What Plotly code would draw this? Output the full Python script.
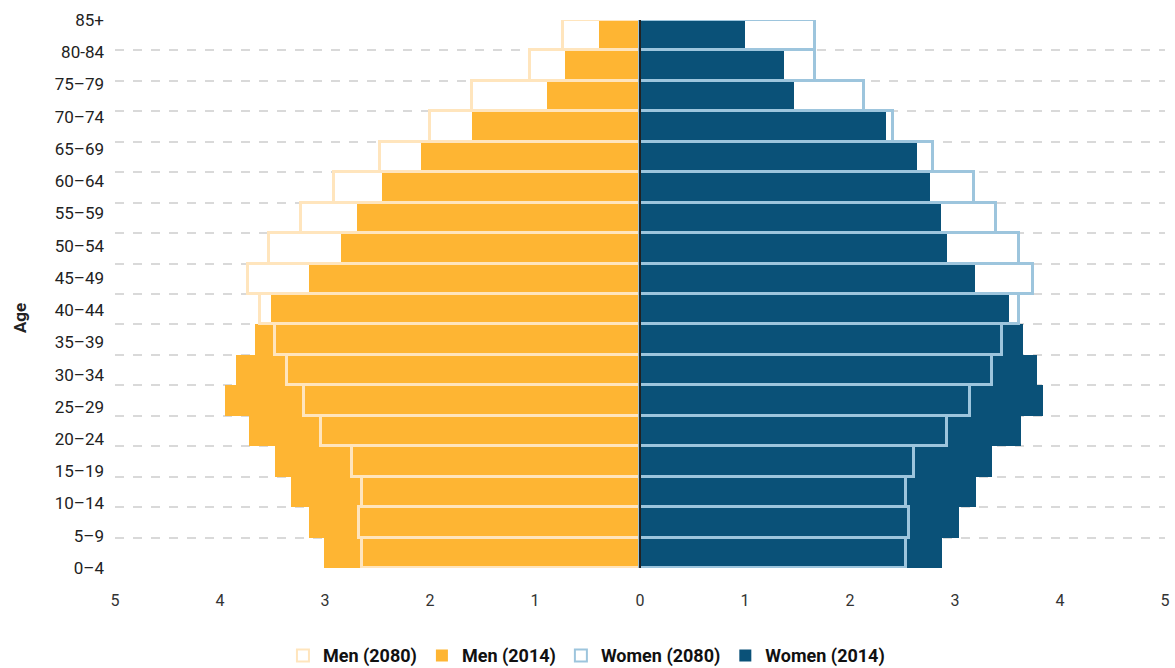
import plotly.graph_objects as go

ages = ["0–4", "5–9", "10–14", "15–19", "20–24", "25–29", "30–34", "35–39", "40–44",
        "45–49", "50–54", "55–59", "60–64", "65–69", "70–74", "75–79", "80-84", "85+"]

men_2080 = [2.65, 2.68, 2.65, 2.74, 3.04, 3.20, 3.36, 3.48, 3.62,
            3.73, 3.53, 3.23, 2.91, 2.48, 2.00, 1.60, 1.05, 0.73]
men_2014 = [3.01, 3.15, 3.32, 3.48, 3.72, 3.95, 3.85, 3.67, 3.51,
            3.15, 2.85, 2.70, 2.46, 2.09, 1.60, 0.89, 0.71, 0.39]
women_2080 = [2.53, 2.56, 2.53, 2.61, 2.92, 3.14, 3.35, 3.45, 3.61,
              3.74, 3.61, 3.39, 3.18, 2.79, 2.41, 2.13, 1.67, 1.67]
women_2014 = [2.88, 3.04, 3.20, 3.35, 3.63, 3.84, 3.78, 3.65, 3.51,
              3.19, 2.92, 2.87, 2.76, 2.64, 2.34, 1.47, 1.37, 1.00]

x_ticks = [-5, -4, -3, -2, -1, 0, 1, 2, 3, 4, 5]
x_ticktext = [str(abs(v)) for v in x_ticks]

ORANGE = "#FEB533"
CREAM = "#FFE5BD"
DARKBLUE = "#0A5178"
LIGHTBLUE = "#9DC5DD"
FONT = "Roboto, Liberation Sans, Arial"

n = len(ages)
ypos = list(range(n))
boundaries = [i - 0.5 for i in range(n + 1)]
label_pos = [-0.5 + k * n / (n - 1) for k in range(n)]

fig = go.Figure()
fig.add_trace(go.Bar(y=ypos, x=[-v for v in men_2014], orientation="h", name="<b>Men (2014)</b>",
                     marker=dict(color=ORANGE, line=dict(width=0)), legendrank=2))
fig.add_trace(go.Bar(y=ypos, x=women_2014, orientation="h", name="<b>Women (2014)</b>",
                     marker=dict(color=DARKBLUE, line=dict(width=0)), legendrank=4))
fig.add_trace(go.Bar(y=ypos, x=[-v for v in men_2080], orientation="h", name="<b>Men (2080)</b>",
                     marker=dict(color="rgba(255,255,255,0)", line=dict(color=CREAM, width=3)),
                     legendrank=1))
fig.add_trace(go.Bar(y=ypos, x=women_2080, orientation="h", name="<b>Women (2080)</b>",
                     marker=dict(color="rgba(255,255,255,0)", line=dict(color=LIGHTBLUE, width=3)),
                     legendrank=3))
# invisible helper trace carrying the label axis
fig.add_trace(go.Scatter(x=[0], y=[0], yaxis="y2", mode="markers",
                         marker=dict(opacity=0), showlegend=False, hoverinfo="skip"))

fig.add_shape(type="line", xref="x", yref="paper", x0=0, x1=0, y0=0, y1=1,
              line=dict(color="#222222", width=2), layer="above")

fig.add_annotation(text="<b>Age</b>", xref="paper", yref="paper", x=-0.0905, y=0.456,
                   textangle=-90, showarrow=False, font=dict(size=17, color="#222222"),
                   xanchor="center", yanchor="middle")

fig.update_layout(
    width=1175, height=668,
    margin=dict(l=115, r=10, t=20, b=100, autoexpand=False),
    paper_bgcolor="white", plot_bgcolor="white",
    barmode="overlay", bargap=0,
    font=dict(family=FONT, size=16, color="#222222"),
    xaxis=dict(range=[-5, 5], tickmode="array", tickvals=x_ticks, ticktext=x_ticktext,
               showgrid=False, zeroline=False, showline=False, ticks="", automargin=False,
               ticklabelstandoff=21, ticklabeloverflow="allow",
               tickfont=dict(size=16, color="#333333")),
    yaxis=dict(range=[-0.5, n - 0.5], tickmode="array", tickvals=boundaries,
               showticklabels=False, showgrid=True, gridcolor="#D9D9D9", griddash="dash",
               gridwidth=1.5, zeroline=False, showline=False, ticks="", automargin=False),
    yaxis2=dict(overlaying="y", side="left", range=[-0.5, n - 0.5], tickmode="array",
                tickvals=label_pos, ticktext=ages, showgrid=False, zeroline=False,
                showline=False, ticks="", ticklabelstandoff=10, automargin=False,
                tickfont=dict(size=17, color="#222222")),
    legend=dict(orientation="h", x=0.449, xanchor="center", y=-0.16, yanchor="middle",
                font=dict(size=18, color="#111111"), traceorder="normal",
                itemsizing="constant"),
    showlegend=True,
)

fig.write_html(
    "out.html",
    config={"displayModeBar": False},
    post_script="document.body.style.margin='0';"
                "document.documentElement.style.overflow='hidden';"
                "document.body.style.overflow='hidden';",
)
